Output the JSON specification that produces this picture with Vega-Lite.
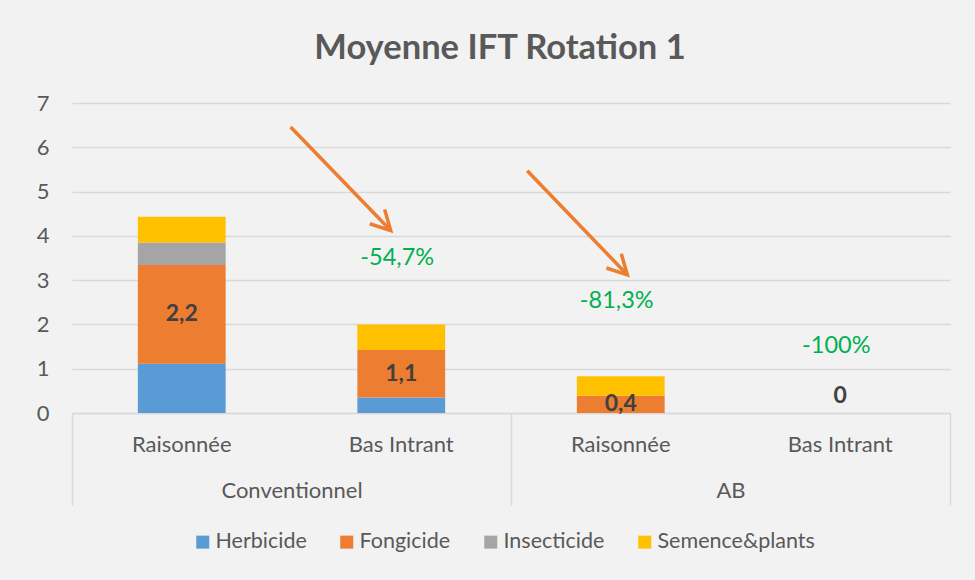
{
  "$schema": "https://vega.github.io/schema/vega-lite/v6.json",
  "width": 878,
  "height": 310,
  "autosize": {"type": "none"},
  "padding": {"left": 72, "top": 103, "right": 25, "bottom": 167},
  "background": "#f2f2f2",
  "title": {"text": "Moyenne IFT Rotation 1", "font": "Lato", "fontSize": 34.5, "fontWeight": "bold", "color": "#595959", "offset": 26, "dx": -11},
  "config": {
    "font": "Lato",
    "view": {"stroke": null},
    "locale": {"number": {"decimal": ",", "thousands": " ", "grouping": [3], "currency": ["", " €"]}}
  },
  "datasets": {
    "ift": [
      {"key": "Conventionnel|Raisonnée", "type": "Herbicide", "value": 1.11},
      {"key": "Conventionnel|Raisonnée", "type": "Fongicide", "value": 2.23},
      {"key": "Conventionnel|Raisonnée", "type": "Insecticide", "value": 0.51},
      {"key": "Conventionnel|Raisonnée", "type": "Semence&plants", "value": 0.58},
      {"key": "Conventionnel|Bas Intrant", "type": "Herbicide", "value": 0.35},
      {"key": "Conventionnel|Bas Intrant", "type": "Fongicide", "value": 1.07},
      {"key": "Conventionnel|Bas Intrant", "type": "Insecticide", "value": 0},
      {"key": "Conventionnel|Bas Intrant", "type": "Semence&plants", "value": 0.58},
      {"key": "AB|Raisonnée", "type": "Herbicide", "value": 0},
      {"key": "AB|Raisonnée", "type": "Fongicide", "value": 0.39},
      {"key": "AB|Raisonnée", "type": "Insecticide", "value": 0},
      {"key": "AB|Raisonnée", "type": "Semence&plants", "value": 0.44},
      {"key": "AB|Bas Intrant", "type": "Herbicide", "value": 0},
      {"key": "AB|Bas Intrant", "type": "Fongicide", "value": 0},
      {"key": "AB|Bas Intrant", "type": "Insecticide", "value": 0},
      {"key": "AB|Bas Intrant", "type": "Semence&plants", "value": 0}
    ],
    "notes": [
      {"key": "Conventionnel|Bas Intrant", "text": "-54,7%", "y": 3.5, "kind": "pct"},
      {"key": "AB|Raisonnée", "text": "-81,3%", "y": 2.53, "kind": "pct"},
      {"key": "AB|Bas Intrant", "text": "-100%", "y": 1.51, "kind": "pct"},
      {"key": "AB|Bas Intrant", "text": "0", "y": 0.38, "kind": "val"}
    ],
    "arrows": [
      {"x1": 0.996, "y1": 6.46, "x2": 1.452, "y2": 4.12},
      {"x1": 2.074, "y1": 5.47, "x2": 2.53, "y2": 3.12}
    ]
  },
  "resolve": {"scale": {"x": "independent"}},
  "layer": [
    {
      "data": {"name": "ift"},
      "transform": [
        {"calculate": "indexof(['Herbicide','Fongicide','Insecticide','Semence&plants'], datum.type)", "as": "ord"},
        {"stack": "value", "groupby": ["key"], "sort": [{"field": "ord", "order": "ascending"}], "as": ["v0", "v1"]}
      ],
      "mark": {"type": "bar", "width": {"band": 0.4}},
      "encoding": {
        "x": {
          "field": "key", "type": "nominal", "sort": null,
          "scale": {"domain": ["Conventionnel|Raisonnée", "Conventionnel|Bas Intrant", "AB|Raisonnée", "AB|Bas Intrant"], "paddingInner": 0, "paddingOuter": 0},
          "axis": {"orient": "bottom", "title": null, "labelAngle": 0, "labelExpr": "split(datum.label, '|')[1]", "ticks": false, "domainColor": "#d9d9d9", "domainWidth": 1.5, "labelFontSize": 22, "labelColor": "#595959", "labelPadding": 31, "labelBaseline": "middle", "grid": false}
        },
        "y": {
          "field": "v0", "type": "quantitative",
          "scale": {"domain": [0, 7], "nice": false, "zero": true},
          "axis": {"title": null, "values": [0, 1, 2, 3, 4, 5, 6, 7], "domain": false, "ticks": false, "labelPadding": 23, "labelFontSize": 22, "labelColor": "#595959", "grid": true, "gridColor": "#d9d9d9", "gridWidth": 1.3}
        },
        "y2": {"field": "v1"},
        "color": {
          "field": "type", "type": "nominal",
          "scale": {"domain": ["Herbicide", "Fongicide", "Insecticide", "Semence&plants"], "range": ["#5b9bd5", "#ed7d31", "#a5a5a5", "#ffc000"]},
          "legend": {"orient": "none", "legendX": 120, "legendY": 428, "direction": "horizontal", "title": null, "symbolType": "square", "symbolSize": 169, "symbolStrokeWidth": 0, "labelFontSize": 21.5, "labelColor": "#595959", "labelOffset": 2, "columnPadding": 29, "padding": 0}
        }
      }
    },
    {
      "data": {"name": "ift"},
      "transform": [
        {"calculate": "indexof(['Herbicide','Fongicide','Insecticide','Semence&plants'], datum.type)", "as": "ord"},
        {"stack": "value", "groupby": ["key"], "sort": [{"field": "ord", "order": "ascending"}], "as": ["v0", "v1"]},
        {"filter": "datum.type == 'Fongicide' && datum.value > 0"},
        {"calculate": "(datum.v0 + datum.v1) / 2", "as": "mid"}
      ],
      "mark": {"type": "text", "fontWeight": "bold", "fontSize": 23, "color": "#404040", "baseline": "middle", "align": "center"},
      "encoding": {
        "x": {"field": "key", "type": "nominal", "sort": null, "scale": {"domain": ["Conventionnel|Raisonnée", "Conventionnel|Bas Intrant", "AB|Raisonnée", "AB|Bas Intrant"], "paddingInner": 0, "paddingOuter": 0}, "axis": null},
        "y": {"field": "mid", "type": "quantitative"},
        "text": {"field": "value", "type": "quantitative", "format": ".1f"}
      }
    },
    {
      "data": {"name": "notes"},
      "transform": [{"filter": "datum.kind == 'pct'"}],
      "mark": {"type": "text", "fontSize": 23.5, "color": "#00b050", "baseline": "middle", "align": "center", "dx": -4},
      "encoding": {
        "x": {"field": "key", "type": "nominal", "sort": null, "scale": {"domain": ["Conventionnel|Raisonnée", "Conventionnel|Bas Intrant", "AB|Raisonnée", "AB|Bas Intrant"], "paddingInner": 0, "paddingOuter": 0}, "axis": null},
        "y": {"field": "y", "type": "quantitative"},
        "text": {"field": "text"}
      }
    },
    {
      "data": {"name": "notes"},
      "transform": [{"filter": "datum.kind == 'val'"}],
      "mark": {"type": "text", "fontSize": 23, "fontWeight": "bold", "color": "#404040", "baseline": "middle", "align": "center"},
      "encoding": {
        "x": {"field": "key", "type": "nominal", "sort": null, "scale": {"domain": ["Conventionnel|Raisonnée", "Conventionnel|Bas Intrant", "AB|Raisonnée", "AB|Bas Intrant"], "paddingInner": 0, "paddingOuter": 0}, "axis": null},
        "y": {"field": "y", "type": "quantitative"},
        "text": {"field": "text"}
      }
    },
    {
      "data": {"name": "arrows"},
      "mark": {"type": "rule", "color": "#ed7d31", "strokeWidth": 3.5},
      "encoding": {
        "x": {"field": "x1", "type": "quantitative", "scale": {"domain": [0, 4], "nice": false, "zero": false},
          "axis": {"orient": "bottom", "values": [0, 2, 4], "labels": false, "domain": false, "grid": false, "title": null, "tickSize": 92, "tickColor": "#d9d9d9", "tickWidth": 1.5}},
        "x2": {"field": "x2"},
        "y": {"field": "y1", "type": "quantitative"},
        "y2": {"field": "y2"}
      }
    },
    {
      "data": {"name": "arrows"},
      "mark": {"type": "point", "shape": "M-0.883,-0.469L0,0L-0.883,0.469", "size": 1936, "angle": 46, "filled": false, "stroke": "#ed7d31", "strokeWidth": 3.5, "opacity": 1, "strokeJoin": "miter"},
      "encoding": {
        "x": {"field": "x2", "type": "quantitative", "scale": {"domain": [0, 4], "nice": false, "zero": false},
          "axis": {"orient": "bottom", "values": [1, 3], "labelExpr": "datum.value == 1 ? 'Conventionnel' : 'AB'", "ticks": false, "domain": false, "grid": false, "title": null, "labelPadding": 77, "labelBaseline": "middle", "labelFlush": false, "labelFontSize": 22, "labelColor": "#595959"}},
        "y": {"field": "y2", "type": "quantitative"}
      }
    }
  ]
}
